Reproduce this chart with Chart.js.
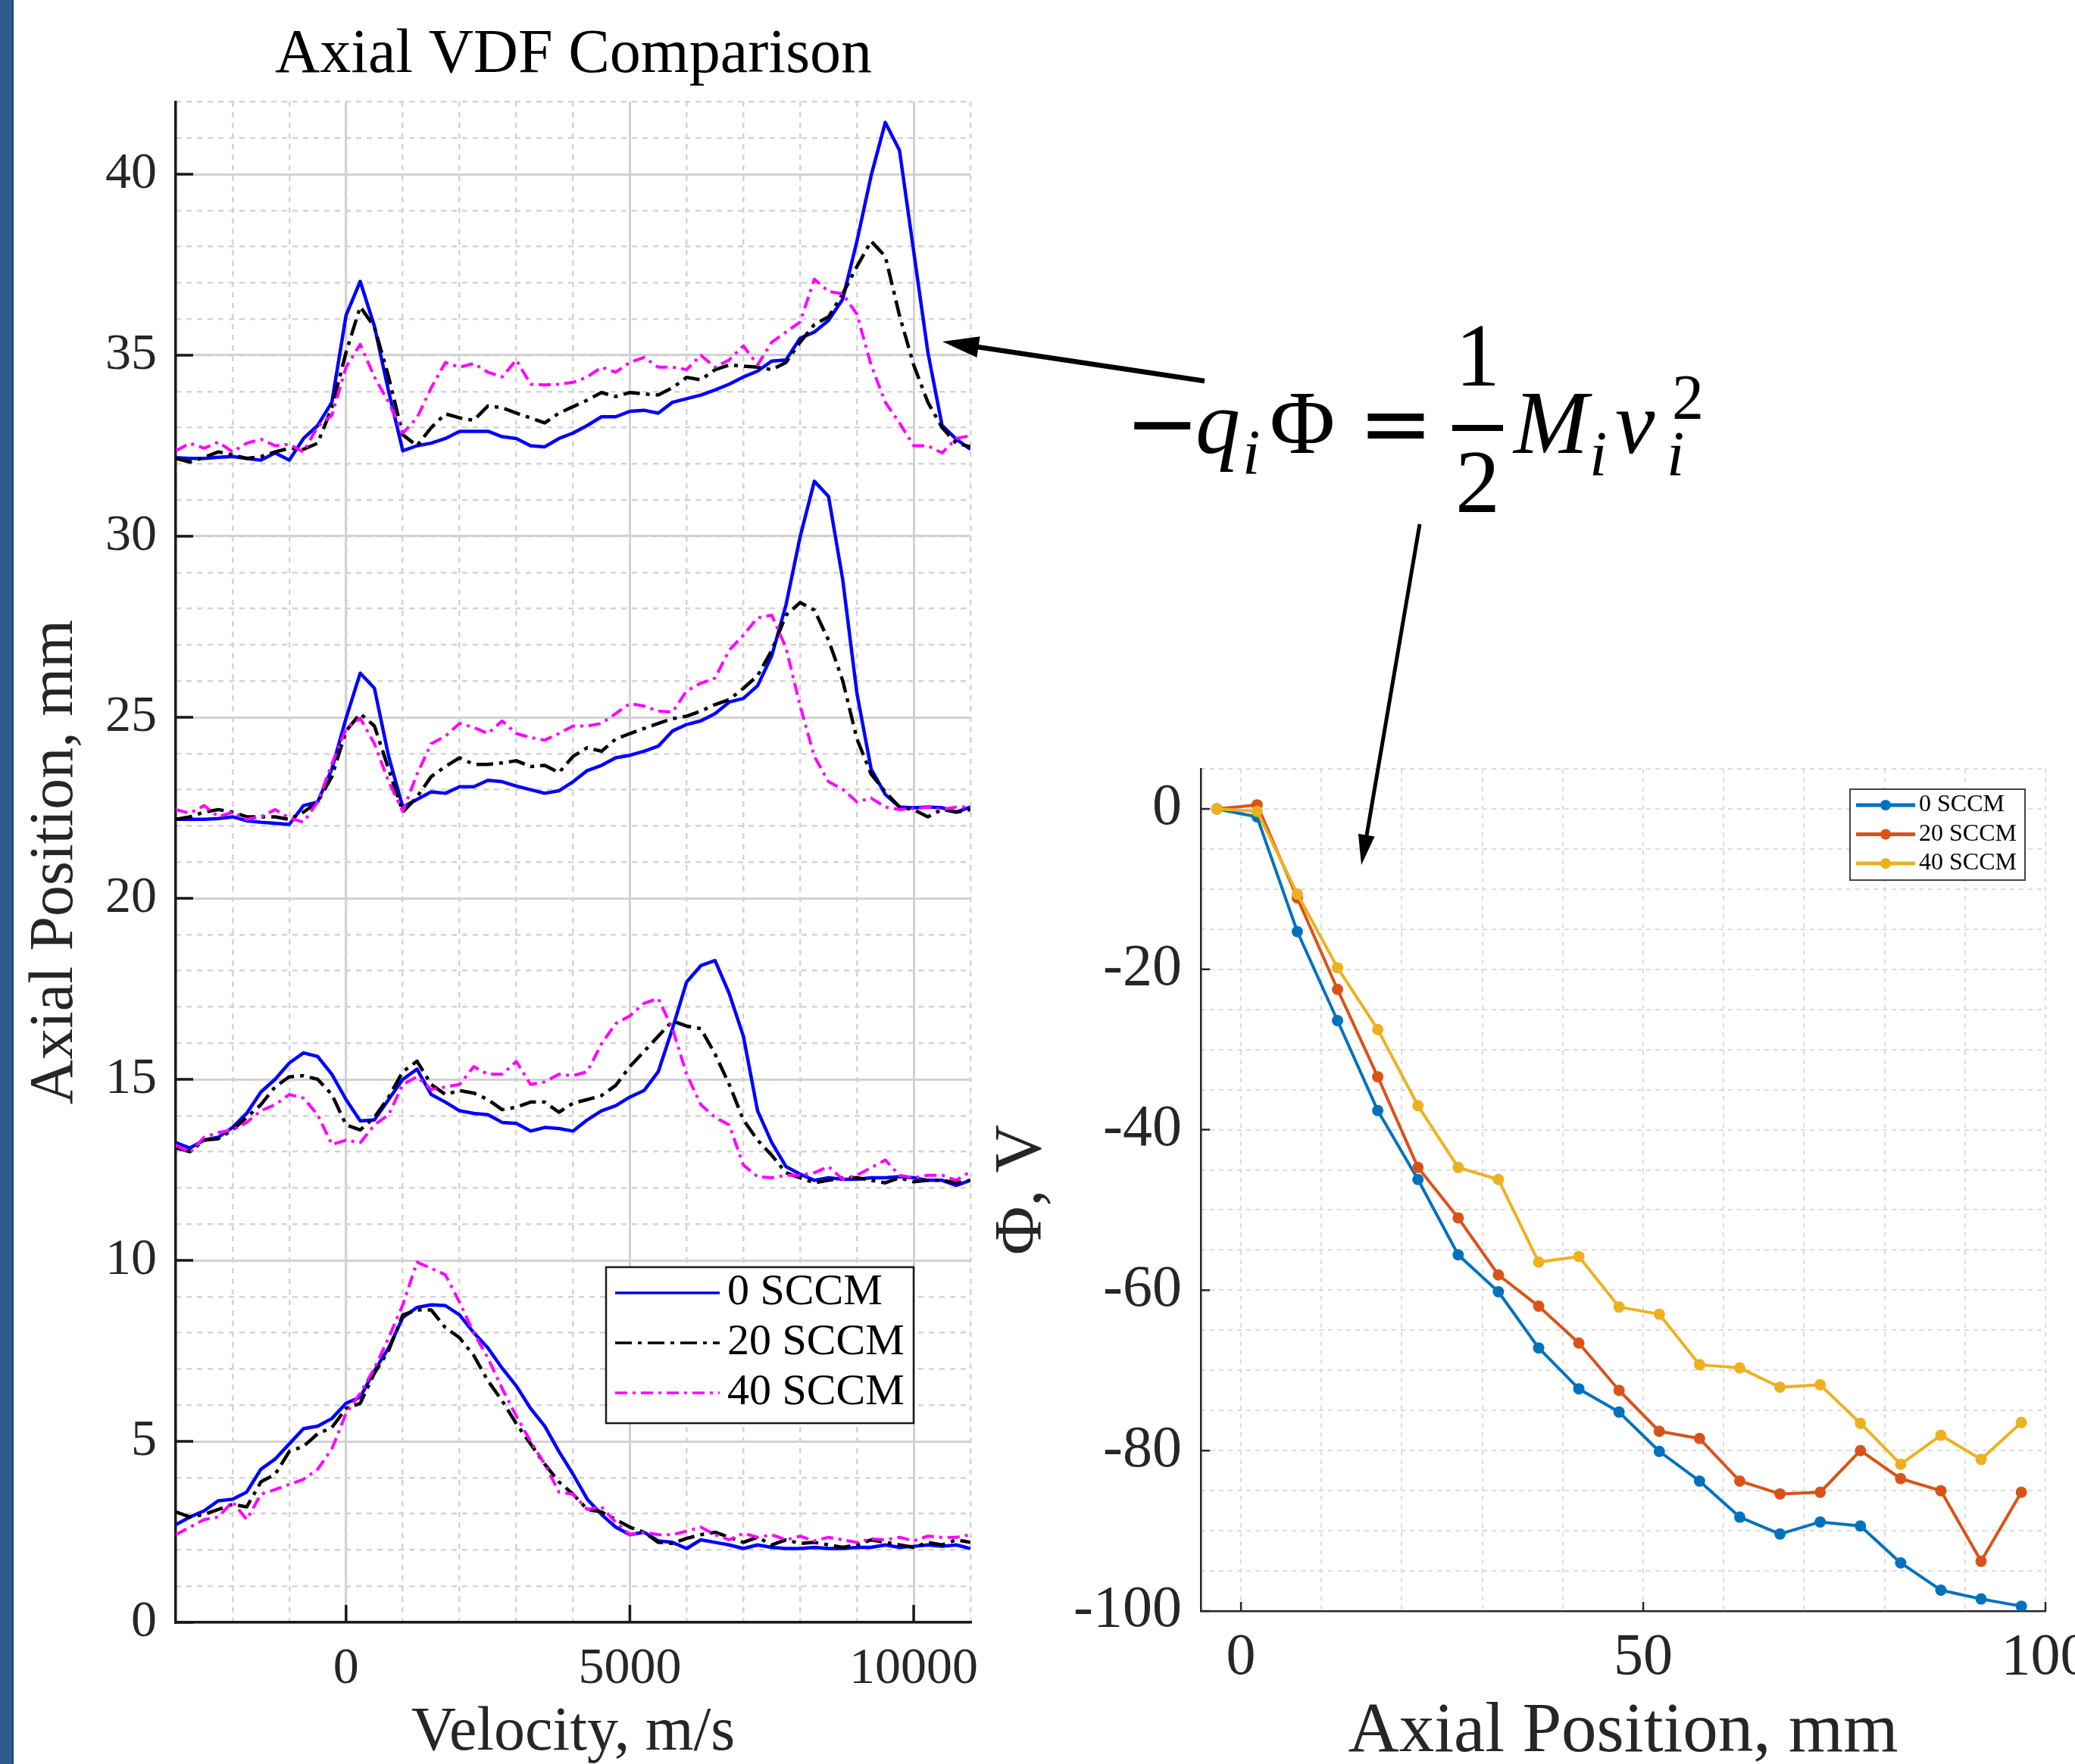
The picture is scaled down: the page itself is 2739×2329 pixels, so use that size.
<!DOCTYPE html>
<html>
<head>
<meta charset="utf-8">
<title>Axial VDF comparison</title>
<script src="https://cdn.jsdelivr.net/npm/chart.js@4.4.1/dist/chart.umd.min.js"></script>
<style>
    html, body { margin: 0; padding: 0; width: 2739px; height: 2329px; overflow: hidden; background: #fff; }
    canvas { position: absolute; }
    #vdf { left: 0; top: 0; }
    #phi { left: 1300px; top: 900px; }
    #bar { position: absolute; left: 0; top: 0; width: 16px; height: 2329px; background: #2f5c8c; border-right: 2px solid #1f3f66; }
    #arrows { position: absolute; left: 0; top: 0; }
    .eq { position: absolute; font-family: 'Liberation Serif', 'DejaVu Serif', serif; line-height: 1; color: #000; white-space: nowrap; }
    .op { font-family: 'DejaVu Sans', sans-serif; }
    .it { font-style: italic; }
    .frac { text-align: center; width: 67px; }
    #fracbar { position: absolute; left: 1917px; top: 561px; width: 67px; height: 8px; background: #000; }
</style>
</head>
<body>
<canvas id="vdf" width="1514" height="2329"></canvas>
<canvas id="phi" width="1510" height="1429"></canvas>
<div id="bar"></div>

<svg id="arrows" width="2739" height="2329">
    <line x1="1590" y1="503" x2="1290" y2="458" stroke="#000" stroke-width="6.5"/>
    <polygon points="1244,451 1293.6,444.3 1289.4,471.9" fill="#000"/>
    <line x1="1874" y1="692" x2="1804" y2="1103" stroke="#000" stroke-width="5"/>
    <polygon points="1797,1142 1814.5,1104.5 1792.9,1100.7" fill="#000"/>
</svg>

<span class="eq op" style="left:1485px;top:499px;font-size:118px">&#8722;</span>
<span class="eq it" style="left:1578px;top:500px;font-size:118px">q</span>
<span class="eq it" style="left:1640px;top:556px;font-size:84px">i</span>
<span class="eq" style="left:1676px;top:500px;font-size:118px">&#934;</span>
<span class="eq op" style="left:1793px;top:499px;font-size:118px">=</span>
<span class="eq frac" style="left:1917px;top:411px;font-size:118px">1</span>
<div id="fracbar"></div>
<span class="eq frac" style="left:1917px;top:578px;font-size:118px">2</span>
<span class="eq it" style="left:1998px;top:500px;font-size:118px">M</span>
<span class="eq it" style="left:2098px;top:558px;font-size:84px">i</span>
<span class="eq it" style="left:2132px;top:500px;font-size:118px">v</span>
<span class="eq" style="left:2207px;top:483px;font-size:84px">2</span>
<span class="eq it" style="left:2200px;top:558px;font-size:84px">i</span>

<script>
const FONT = "'Liberation Serif', 'DejaVu Serif', serif";
const INK = '#262626';

// velocity samples (m/s), shared by every VDF trace
const velocity = [-3000, -2750, -2500, -2250, -2000, -1750, -1500, -1250, -1000, -750, -500, -250,
    0, 250, 500, 750, 1000, 1250, 1500, 1750, 2000, 2250, 2500, 2750, 3000, 3250, 3500, 3750,
    4000, 4250, 4500, 4750, 5000, 5250, 5500, 5750, 6000, 6250, 6500, 6750, 7000, 7250, 7500, 7750,
    8000, 8250, 8500, 8750, 9000, 9250, 9500, 9750, 10000, 10250, 10500, 10750, 11000];

// 0 SCCM traces, plotted as axial position (mm)
const vdf0_z2 = [2.70, 2.91, 3.08, 3.36, 3.40, 3.60, 4.23, 4.51, 4.93, 5.35,
    5.42, 5.63, 6.05, 6.22, 6.95, 7.58, 8.42, 8.70, 8.77, 8.75,
    8.49, 8.00, 7.58, 7.02, 6.53, 5.91, 5.42, 4.72, 4.09, 3.40,
    2.98, 2.63, 2.42, 2.49, 2.25, 2.21, 2.04, 2.28, 2.21, 2.14,
    2.04, 2.14, 2.07, 2.04, 2.04, 2.07, 2.04, 2.04, 2.07, 2.07,
    2.14, 2.07, 2.10, 2.14, 2.10, 2.14, 2.04];
const vdf0_z12 = [13.25, 13.10, 13.32, 13.40, 13.67, 14.06, 14.65, 15.00, 15.45, 15.73,
    15.63, 15.14, 14.44, 13.85, 13.88, 14.44, 15.00, 15.28, 14.58, 14.37,
    14.13, 14.06, 14.02, 13.81, 13.78, 13.57, 13.67, 13.64, 13.57, 13.88,
    14.13, 14.27, 14.51, 14.69, 15.21, 16.40, 17.69, 18.14, 18.28, 17.37,
    16.19, 14.13, 13.25, 12.59, 12.38, 12.21, 12.28, 12.24, 12.24, 12.28,
    12.28, 12.31, 12.28, 12.21, 12.21, 12.07, 12.21];
const vdf0_z22 = [22.18, 22.18, 22.18, 22.20, 22.25, 22.14, 22.10, 22.07, 22.04, 22.56,
    22.66, 23.57, 24.97, 26.22, 25.80, 23.92, 22.52, 22.73, 22.94, 22.90,
    23.08, 23.08, 23.26, 23.22, 23.10, 23.00, 22.90, 22.97, 23.22, 23.53,
    23.67, 23.88, 23.95, 24.06, 24.20, 24.62, 24.80, 24.90, 25.10, 25.42,
    25.52, 25.87, 26.70, 28.10, 29.99, 31.52, 31.10, 28.80, 25.66, 23.57,
    22.87, 22.52, 22.50, 22.52, 22.50, 22.38, 22.52];
const vdf0_z32 = [32.17, 32.15, 32.15, 32.18, 32.20, 32.15, 32.10, 32.30, 32.10, 32.70,
    33.06, 33.70, 36.10, 37.04, 35.80, 34.00, 32.36, 32.50, 32.57, 32.70,
    32.90, 32.90, 32.90, 32.75, 32.70, 32.50, 32.47, 32.70, 32.85, 33.06,
    33.30, 33.30, 33.45, 33.48, 33.40, 33.70, 33.80, 33.90, 34.04, 34.20,
    34.40, 34.56, 34.84, 34.87, 35.47, 35.64, 35.96, 36.55, 38.15, 39.96,
    41.43, 40.66, 37.87, 35.08, 33.06, 32.68, 32.40];

// 20 SCCM traces
const vdf20_z2 = [3.05, 2.91, 2.98, 3.12, 3.26, 3.19, 3.88, 4.09, 4.72, 4.86,
    5.21, 5.38, 5.91, 6.05, 6.88, 7.51, 8.49, 8.63, 8.63, 8.14,
    7.86, 7.37, 6.67, 6.12, 5.49, 4.93, 4.37, 3.88, 3.54, 3.12,
    3.05, 2.84, 2.63, 2.49, 2.21, 2.18, 2.32, 2.42, 2.49, 2.35,
    2.21, 2.35, 2.14, 2.28, 2.18, 2.21, 2.14, 2.07, 2.14, 2.28,
    2.21, 2.14, 2.07, 2.21, 2.14, 2.28, 2.21];
const vdf20_z12 = [13.11, 13.00, 13.32, 13.36, 13.60, 13.95, 14.30, 14.79, 15.07, 15.10,
    15.00, 14.58, 13.74, 13.60, 13.95, 14.51, 15.21, 15.50, 14.86, 14.58,
    14.69, 14.62, 14.44, 14.16, 14.23, 14.37, 14.37, 14.09, 14.34, 14.44,
    14.55, 14.83, 15.35, 15.77, 16.19, 16.61, 16.47, 16.40, 15.70, 14.86,
    13.88, 13.32, 12.90, 12.42, 12.28, 12.14, 12.21, 12.28, 12.28, 12.21,
    12.14, 12.28, 12.17, 12.21, 12.21, 12.14, 12.21];
const vdf20_z22 = [22.18, 22.25, 22.38, 22.45, 22.38, 22.25, 22.25, 22.25, 22.18, 22.38,
    22.66, 23.36, 24.62, 25.10, 24.76, 23.57, 22.38, 22.80, 23.36, 23.64,
    23.88, 23.70, 23.70, 23.74, 23.80, 23.64, 23.67, 23.47, 23.92, 24.16,
    24.06, 24.40, 24.55, 24.69, 24.83, 24.96, 25.03, 25.17, 25.35, 25.49,
    25.80, 26.15, 26.85, 27.82, 28.17, 27.96, 27.13, 26.01, 24.40, 23.43,
    22.94, 22.52, 22.45, 22.25, 22.45, 22.38, 22.45];
const vdf20_z32 = [32.15, 32.05, 32.18, 32.33, 32.25, 32.15, 32.20, 32.33, 32.43, 32.40,
    32.57, 33.55, 35.08, 36.34, 35.78, 34.40, 32.80, 32.50, 33.00, 33.38,
    33.27, 33.20, 33.60, 33.55, 33.40, 33.27, 33.13, 33.40, 33.58, 33.76,
    33.97, 33.86, 33.97, 33.93, 33.90, 34.10, 34.39, 34.32, 34.60, 34.73,
    34.70, 34.67, 34.60, 34.80, 35.36, 35.85, 36.06, 36.70, 37.45, 38.15,
    37.73, 36.10, 34.73, 33.70, 33.00, 32.57, 32.47];

// 40 SCCM traces
const vdf40_z2 = [2.42, 2.63, 2.84, 2.91, 3.33, 2.84, 3.54, 3.67, 3.81, 3.95,
    4.23, 4.79, 5.77, 6.33, 7.02, 7.86, 8.77, 9.95, 9.78, 9.60,
    8.84, 8.00, 7.30, 6.46, 5.70, 5.00, 4.37, 3.60, 3.54, 3.12,
    3.19, 2.77, 2.42, 2.49, 2.42, 2.42, 2.52, 2.63, 2.42, 2.28,
    2.46, 2.35, 2.42, 2.28, 2.38, 2.25, 2.35, 2.28, 2.21, 2.31,
    2.28, 2.35, 2.25, 2.38, 2.35, 2.35, 2.42];
const vdf40_z12 = [13.18, 12.97, 13.40, 13.53, 13.60, 13.81, 14.13, 14.30, 14.58, 14.48,
    14.02, 13.20, 13.32, 13.25, 13.74, 14.02, 14.86, 15.07, 14.72, 14.79,
    14.86, 15.35, 15.14, 15.14, 15.49, 14.86, 14.93, 15.14, 15.10, 15.21,
    15.98, 16.54, 16.75, 17.10, 17.23, 16.40, 15.14, 14.30, 13.95, 13.74,
    12.63, 12.31, 12.28, 12.35, 12.35, 12.42, 12.59, 12.24, 12.35, 12.56,
    12.77, 12.35, 12.28, 12.35, 12.35, 12.21, 12.45];
const vdf40_z22 = [22.45, 22.35, 22.56, 22.25, 22.38, 22.18, 22.25, 22.45, 22.22, 22.10,
    22.66, 23.71, 24.69, 24.97, 24.27, 23.22, 22.40, 23.43, 24.27, 24.48,
    24.83, 24.72, 24.55, 24.90, 24.55, 24.44, 24.37, 24.55, 24.76, 24.76,
    24.83, 25.10, 25.38, 25.31, 25.17, 25.14, 25.73, 25.94, 26.08, 26.85,
    27.27, 27.75, 27.82, 26.92, 25.31, 23.92, 23.22, 23.01, 22.66, 22.77,
    22.52, 22.45, 22.48, 22.52, 22.45, 22.52, 22.52];
const vdf40_z32 = [32.36, 32.57, 32.43, 32.60, 32.33, 32.57, 32.68, 32.50, 32.54, 32.33,
    33.03, 33.34, 34.67, 35.30, 34.40, 33.70, 32.85, 33.27, 34.10, 34.80,
    34.67, 34.77, 34.53, 34.40, 34.87, 34.20, 34.18, 34.20, 34.25, 34.40,
    34.67, 34.53, 34.80, 34.94, 34.67, 34.67, 34.60, 35.00, 34.67, 34.87,
    35.26, 34.73, 35.36, 35.64, 35.92, 37.10, 36.76, 36.70, 36.13, 34.73,
    33.70, 33.13, 32.50, 32.50, 32.30, 32.70, 32.78];

const velocityTicks = [0, 5000, 10000];
const positionTicks = [0, 5, 10, 15, 20, 25, 30, 35, 40];

// plasma potential along the axis
const probeX = [-3, 2, 7, 12, 17, 22, 27, 32, 37, 42, 47, 52, 57, 62, 67, 72, 77, 82, 87, 92, 97];
const phi0 = [0, -1.0, -15.3, -26.4, -37.6, -46.2, -55.6, -60.2, -67.2, -72.3, -75.2,
    -80.1, -83.8, -88.3, -90.4, -88.9, -89.4, -94.0, -97.4, -98.5, -99.4];
const phi20 = [0, 0.5, -11.1, -22.5, -33.4, -44.7, -51.0, -58.1, -62.0, -66.6, -72.5,
    -77.6, -78.5, -83.8, -85.4, -85.2, -80.0, -83.5, -85.0, -93.8, -85.2];
const phi40 = [0, -0.3, -10.6, -19.8, -27.5, -37.0, -44.7, -46.2, -56.5, -55.8, -62.1,
    -63.0, -69.3, -69.7, -72.1, -71.8, -76.6, -81.7, -78.1, -81.1, -76.5];

const axialTicks = [0, 50, 100];
const phiTicks = [-100, -80, -60, -40, -20, 0];

// one dataset per flow rate, the four stations split by null gaps
function traces(groups) {
    const points = [];
    groups.forEach((group, k) => {
        if (k) {
            points.push({ x: velocity[0], y: null });
        }
        group.forEach((y, i) => points.push({ x: velocity[i], y }));
    });
    return points;
}

function fixedTicks(values) {
    return (scale) => {
        scale.ticks = values.map((value) => ({ value }));
    };
}

// matlab style tick marks pointing into the plot
const innerTicks = {
    id: 'innerTicks',
    afterDatasetsDraw(chart, args, opts) {
        const { ctx, chartArea, scales } = chart;
        ctx.save();
        ctx.strokeStyle = opts.color;
        ctx.lineWidth = opts.width;
        ctx.beginPath();
        opts.x.forEach((v) => {
            const px = scales.x.getPixelForValue(v);
            ctx.moveTo(px, chartArea.bottom);
            ctx.lineTo(px, chartArea.bottom - opts.length);
        });
        opts.y.forEach((v) => {
            const py = scales.y.getPixelForValue(v);
            ctx.moveTo(chartArea.left, py);
            ctx.lineTo(chartArea.left + opts.length, py);
        });
        ctx.stroke();
        ctx.restore();
    },
};

// boxed legend with line samples, placed inside the axes
const boxLegend = {
    id: 'boxLegend',
    afterDraw(chart, args, o) {
        const { ctx } = chart;
        ctx.save();
        ctx.fillStyle = '#ffffff';
        ctx.fillRect(o.x, o.y, o.w, o.h);
        ctx.strokeStyle = o.borderColor;
        ctx.lineWidth = o.borderWidth;
        ctx.strokeRect(o.x, o.y, o.w, o.h);
        ctx.font = `${o.fontSize}px ${FONT}`;
        ctx.textBaseline = 'middle';
        chart.data.datasets.forEach((ds, i) => {
            const cy = o.y + o.firstRow + i * o.rowGap;
            ctx.save();
            ctx.strokeStyle = ds.borderColor;
            ctx.lineWidth = o.lineWidth || ds.borderWidth;
            ctx.setLineDash(ds.borderDash || []);
            ctx.beginPath();
            ctx.moveTo(o.x + o.lineStart, cy);
            ctx.lineTo(o.x + o.lineEnd, cy);
            ctx.stroke();
            ctx.restore();
            if (o.marker) {
                ctx.fillStyle = ds.borderColor;
                ctx.beginPath();
                ctx.arc(o.x + (o.lineStart + o.lineEnd) / 2, cy, o.marker, 0, Math.PI * 2);
                ctx.fill();
            }
            ctx.fillStyle = '#000000';
            ctx.fillText(ds.label, o.x + o.textStart, cy);
        });
        ctx.restore();
    },
};

new Chart(document.getElementById('vdf'), {
    type: 'line',
    data: {
        datasets: [
            {
                label: '0 SCCM',
                data: traces([vdf0_z2, vdf0_z12, vdf0_z22, vdf0_z32]),
                borderColor: '#0000ff',
                borderWidth: 4.5,
                order: 2,
            },
            {
                label: '20 SCCM',
                data: traces([vdf20_z2, vdf20_z12, vdf20_z22, vdf20_z32]),
                borderColor: '#000000',
                borderWidth: 4.5,
                borderDash: [22, 8, 5, 8],
                order: 1,
            },
            {
                label: '40 SCCM',
                data: traces([vdf40_z2, vdf40_z12, vdf40_z22, vdf40_z32]),
                borderColor: '#ff00ff',
                borderWidth: 4,
                borderDash: [16, 7, 4, 7],
                order: 0,
            },
        ],
    },
    options: {
        responsive: false,
        animation: false,
        events: [],
        devicePixelRatio: 1,
        layout: { padding: 0 },
        elements: {
            point: { radius: 0 },
            line: { tension: 0, fill: false, borderJoinStyle: 'round' },
        },
        scales: {
            x: {
                type: 'linear',
                position: 'bottom',
                min: -3000,
                max: 11000,
                afterBuildTicks: fixedTicks(velocityTicks),
                afterFit: (s) => { s.height = 187; },
                ticks: {
                    callback: (v) => String(v),
                    autoSkip: false,
                    maxRotation: 0,
                    padding: 28,
                    color: INK,
                    font: { family: FONT, size: 68, lineHeight: 1 },
                },
                grid: { color: '#d2d2d2', lineWidth: 3, drawTicks: false },
                border: { display: true, color: '#1a1a1a', width: 3.5 },
                title: {
                    display: true,
                    text: 'Velocity, m/s',
                    color: INK,
                    font: { family: FONT, size: 82, lineHeight: 1 },
                    padding: { top: 0, bottom: 0 },
                },
            },
            y: {
                type: 'linear',
                position: 'left',
                min: 0,
                max: 42,
                afterBuildTicks: fixedTicks(positionTicks),
                afterFit: (s) => { s.width = 232; },
                ticks: {
                    callback: (v) => String(v),
                    autoSkip: false,
                    padding: 25,
                    color: INK,
                    font: { family: FONT, size: 68, lineHeight: 1 },
                },
                grid: { color: '#d2d2d2', lineWidth: 3, drawTicks: false },
                border: { display: true, color: '#1a1a1a', width: 3.5 },
                title: {
                    display: true,
                    text: 'Axial Position, mm',
                    color: INK,
                    font: { family: FONT, size: 82, lineHeight: 1 },
                    padding: { top: 32, bottom: 0 },
                },
            },
            xMinor: {
                type: 'linear',
                axis: 'x',
                position: 'top',
                min: -3000,
                max: 11000,
                afterFit: (s) => { s.height = 0; },
                ticks: { display: false, stepSize: 1000 },
                grid: { color: '#d4d4d4', lineWidth: 2.5, drawTicks: false, z: -2, borderDash: [7, 7] },
                border: { display: false, dash: [7, 7] },
            },
            yMinor: {
                type: 'linear',
                axis: 'y',
                position: 'right',
                min: 0,
                max: 42,
                // also balances the title over the axes
                afterFit: (s) => { s.width = 233; },
                ticks: { display: false, stepSize: 1 },
                grid: { color: '#d4d4d4', lineWidth: 2.5, drawTicks: false, z: -2, borderDash: [7, 7] },
                border: { display: false, dash: [7, 7] },
            },
        },
        plugins: {
            legend: { display: false },
            tooltip: { enabled: false },
            title: {
                display: true,
                text: 'Axial VDF Comparison',
                color: '#000000',
                font: { family: FONT, size: 82, weight: 'normal', lineHeight: 1.2 },
                padding: { top: 24, bottom: 12 },
            },
            innerTicks: { x: velocityTicks, y: positionTicks, length: 23, width: 3.5, color: '#1a1a1a' },
            boxLegend: {
                x: 800, y: 1673, w: 406, h: 206,
                firstRow: 34, rowGap: 66,
                lineStart: 12, lineEnd: 150, textStart: 160,
                lineWidth: 3.5,
                fontSize: 58, borderColor: '#1a1a1a', borderWidth: 2.5,
            },
        },
    },
    plugins: [innerTicks, boxLegend],
});

function potentialSet(label, values, color, order) {
    return {
        label,
        data: probeX.map((x, i) => ({ x, y: values[i] })),
        borderColor: color,
        backgroundColor: color,
        borderWidth: 4,
        pointRadius: 7.5,
        pointBackgroundColor: color,
        pointBorderWidth: 0,
        order,
    };
}

new Chart(document.getElementById('phi'), {
    type: 'line',
    data: {
        datasets: [
            potentialSet('0 SCCM', phi0, '#0072bd', 2),
            potentialSet('20 SCCM', phi20, '#d95319', 1),
            potentialSet('40 SCCM', phi40, '#edb120', 0),
        ],
    },
    options: {
        responsive: false,
        animation: false,
        events: [],
        devicePixelRatio: 1,
        layout: { padding: { top: 115, right: 110, bottom: 0, left: 0 } },
        elements: { line: { tension: 0, fill: false, borderJoinStyle: 'round' } },
        scales: {
            x: {
                type: 'linear',
                position: 'bottom',
                min: -5,
                max: 100,
                afterBuildTicks: fixedTicks(axialTicks),
                afterFit: (s) => { s.height = 202; },
                ticks: {
                    callback: (v) => String(v),
                    autoSkip: false,
                    maxRotation: 0,
                    padding: 24,
                    color: INK,
                    font: { family: FONT, size: 78, lineHeight: 1 },
                },
                grid: { color: 'rgba(0,0,0,0)', drawTicks: false },
                border: { display: true, color: INK, width: 2.5 },
                title: {
                    display: true,
                    text: 'Axial Position, mm',
                    color: INK,
                    font: { family: FONT, size: 93, lineHeight: 0.9 },
                    padding: { top: 0, bottom: 0 },
                },
            },
            y: {
                type: 'linear',
                position: 'left',
                min: -100,
                max: 5,
                afterBuildTicks: fixedTicks(phiTicks),
                afterFit: (s) => { s.width = 285; },
                ticks: {
                    callback: (v) => String(v),
                    autoSkip: false,
                    padding: 25,
                    color: INK,
                    font: { family: FONT, size: 78, lineHeight: 1 },
                },
                grid: { color: 'rgba(0,0,0,0)', drawTicks: false },
                border: { display: true, color: INK, width: 2.5 },
                title: {
                    display: true,
                    text: 'Φ, V',
                    color: INK,
                    font: { family: FONT, size: 88, lineHeight: 1 },
                    padding: { top: 6, bottom: 0 },
                },
            },
            xMinor: {
                type: 'linear',
                axis: 'x',
                position: 'top',
                min: -5,
                max: 100,
                afterFit: (s) => { s.height = 0; },
                ticks: { display: false, stepSize: 10 },
                grid: { color: '#dcdcdc', lineWidth: 2, drawTicks: false, z: -2, borderDash: [6, 6] },
                border: { display: false, dash: [6, 6] },
            },
            yMinor: {
                type: 'linear',
                axis: 'y',
                position: 'right',
                min: -100,
                max: 5,
                afterFit: (s) => { s.width = 0; },
                ticks: { display: false, stepSize: 5 },
                grid: { color: '#dcdcdc', lineWidth: 2, drawTicks: false, z: -2, borderDash: [6, 6] },
                border: { display: false, dash: [6, 6] },
            },
        },
        plugins: {
            legend: { display: false },
            tooltip: { enabled: false },
            innerTicks: { x: axialTicks, y: phiTicks, length: 12, width: 2.5, color: INK },
            boxLegend: {
                x: 1142, y: 142, w: 231, h: 120,
                firstRow: 21, rowGap: 38.5,
                lineStart: 8, lineEnd: 86, textStart: 91,
                marker: 7, lineWidth: 5,
                fontSize: 32, borderColor: '#444444', borderWidth: 2,
            },
        },
    },
    plugins: [innerTicks, boxLegend],
});
</script>
</body>
</html>
